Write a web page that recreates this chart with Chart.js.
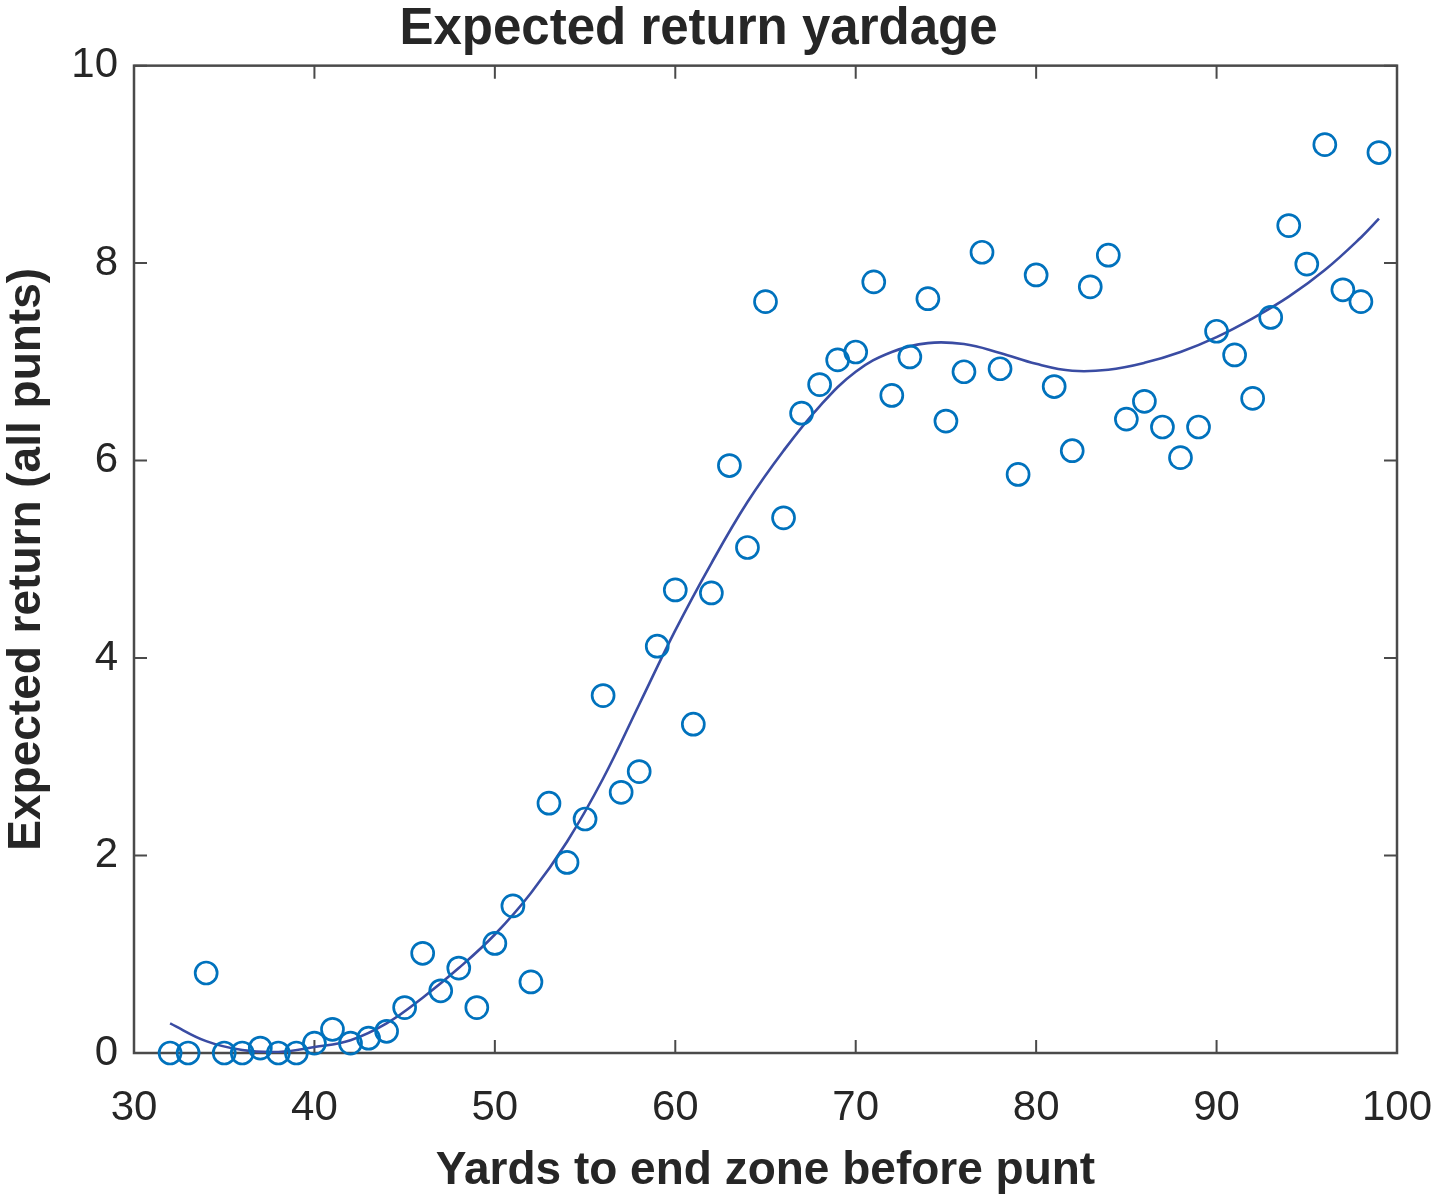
<!DOCTYPE html>
<html>
<head>
<meta charset="utf-8">
<script src="https://cdn.jsdelivr.net/npm/chart.js@4/dist/chart.umd.min.js"></script>
<style>
  html, body { margin: 0; padding: 0; background: #fff; }
  #wrap { width: 1437px; height: 1199px; }
</style>
</head>
<body>
<div id="wrap"><canvas id="punt-chart" width="1437" height="1199"></canvas></div>
<script>
// yards to end zone for each punt group
const yards = [32, 33, 34, 35, 36, 37, 38, 39, 40, 41, 42, 43, 44, 45, 46, 47, 48, 49,
  50, 51, 52, 53, 54, 55, 56, 57, 58, 59, 60, 61, 62, 63, 64, 65, 66, 67, 68, 69,
  70, 71, 72, 73, 74, 75, 76, 77, 78, 79, 80, 81, 82, 83, 84, 85, 86, 87, 88, 89,
  90, 91, 92, 93, 94, 95, 96, 97, 98, 99];
// expected return (all punts)
const expectedReturn = [0, 0, 0.81, 0, 0, 0.05, 0, 0, 0.1, 0.24, 0.1, 0.15, 0.22, 0.46, 1.01, 0.63, 0.86, 0.46,
  1.11, 1.49, 0.72, 2.53, 1.93, 2.37, 3.62, 2.64, 2.85, 4.12, 4.69, 3.33, 4.66, 5.95, 5.12, 7.61, 5.42, 6.48, 6.77, 7.02,
  7.1, 7.81, 6.66, 7.05, 7.64, 6.4, 6.9, 8.11, 6.93, 5.86, 7.88, 6.75, 6.1, 7.76, 8.08, 6.42, 6.6, 6.34, 6.03, 6.34,
  7.31, 7.07, 6.63, 7.45, 8.38, 7.99, 9.2, 7.73, 7.61, 9.12];

// smooth fit curve
const fitYards = [32, 34, 36, 38, 40, 42, 44, 46, 48, 50, 52, 54, 56, 58, 60, 62, 64, 66,
  68, 70, 72, 74, 76, 78, 80, 82, 84, 86, 88, 90, 92, 94, 96, 98, 99];
const fitReturn = [0.30, 0.12, 0.03, 0.01, 0.06, 0.13, 0.30, 0.56, 0.86, 1.20, 1.62, 2.14, 2.78, 3.53, 4.28, 4.96, 5.58, 6.10,
  6.55, 6.90, 7.10, 7.19, 7.18, 7.09, 6.98, 6.91, 6.92, 6.99, 7.10, 7.25, 7.44, 7.66, 7.93, 8.26, 8.45];

const xTicks = [30, 40, 50, 60, 70, 80, 90, 100];
const yTicks = [0, 2, 4, 6, 8, 10];

const FONT = '"Liberation Sans", Arial, Helvetica, sans-serif';
const TEXT_COLOR = '#262626';
const AXIS_COLOR = '#4a4a4a';

// 상자 테두리 + 안쪽 눈금 (MATLAB 스타일)
const boxTicks = {
  id: 'boxTicks',
  beforeDatasetsDraw(chart) {
    const { ctx, chartArea: a, scales } = chart;
    const len = 13;
    ctx.save();
    ctx.strokeStyle = AXIS_COLOR;
    ctx.lineWidth = 2.5;
    ctx.strokeRect(a.left, a.top, a.right - a.left, a.bottom - a.top);
    ctx.lineWidth = 2;
    ctx.beginPath();
    xTicks.forEach(v => {
      const px = scales.x.getPixelForValue(v);
      ctx.moveTo(px, a.bottom); ctx.lineTo(px, a.bottom - len);
      ctx.moveTo(px, a.top); ctx.lineTo(px, a.top + len);
    });
    yTicks.forEach(v => {
      const py = scales.y.getPixelForValue(v);
      ctx.moveTo(a.left, py); ctx.lineTo(a.left + len, py);
      ctx.moveTo(a.right, py); ctx.lineTo(a.right - len, py);
    });
    ctx.stroke();
    ctx.restore();
  }
};

const ctx = document.getElementById('punt-chart').getContext('2d');
new Chart(ctx, {
  type: 'scatter',
  data: {
    datasets: [
      {
        label: 'fit',
        data: fitYards.map((x, i) => ({ x: x, y: fitReturn[i] })),
        showLine: true,
        borderColor: '#3a4ca3',
        borderWidth: 2.6,
        pointRadius: 0,
        tension: 0.4,
        fill: false,
        order: 2
      },
      {
        label: 'data',
        data: yards.map((x, i) => ({ x: x, y: expectedReturn[i] })),
        pointStyle: 'circle',
        pointRadius: 11,
        pointBorderWidth: 2.7,
        pointBorderColor: '#0072bd',
        pointBackgroundColor: 'rgba(0,0,0,0)',
        clip: false,
        order: 1
      }
    ]
  },
  plugins: [boxTicks],
  options: {
    responsive: false,
    animation: false,
    events: [],
    layout: { padding: { left: 0, right: 40, top: 0, bottom: 0 } },
    plugins: {
      legend: { display: false },
      tooltip: { enabled: false },
      title: {
        display: true,
        text: 'Expected return yardage',
        color: TEXT_COLOR,
        font: { family: FONT, size: 51, weight: 'bold', lineHeight: 1.15 },
        padding: { top: 1, bottom: 6 }
      }
    },
    scales: {
      x: {
        type: 'linear',
        min: 30,
        max: 100,
        afterBuildTicks: s => { s.ticks = xTicks.map(v => ({ value: v })); },
        afterFit: s => { s.height = 146; s.paddingLeft = 0; s.paddingRight = 0; },
        grid: { display: false, drawTicks: false },
        border: { display: false },
        ticks: { color: TEXT_COLOR, padding: 30, font: { family: FONT, size: 42 }, maxRotation: 0 },
        title: {
          display: true,
          text: 'Yards to end zone before punt',
          color: TEXT_COLOR,
          font: { family: FONT, size: 46, weight: 'bold', lineHeight: 1.2 },
          padding: { top: 0, bottom: 0 }
        }
      },
      y: {
        type: 'linear',
        min: 0,
        max: 10,
        afterBuildTicks: s => { s.ticks = yTicks.map(v => ({ value: v })); },
        afterFit: s => { s.width = 134; s.paddingTop = 0; s.paddingBottom = 0; },
        grid: { display: false, drawTicks: false },
        border: { display: false },
        ticks: { color: TEXT_COLOR, padding: 16, font: { family: FONT, size: 42 } },
        title: {
          display: true,
          text: 'Expected return (all punts)',
          color: TEXT_COLOR,
          font: { family: FONT, size: 46, weight: 'bold', lineHeight: 1.2 },
          padding: { top: 0, bottom: 0 }
        }
      }
    }
  }
});
</script>
</body>
</html>
